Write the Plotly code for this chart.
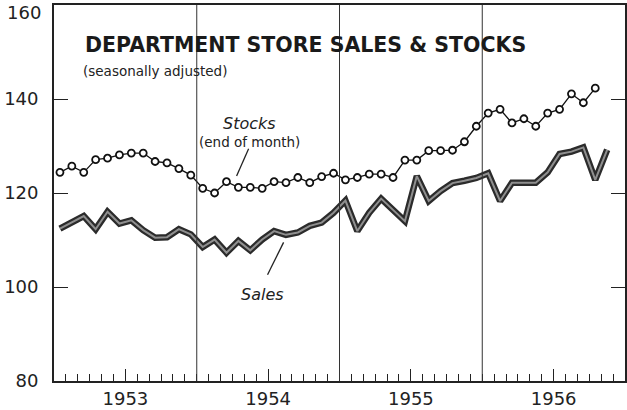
import plotly.graph_objects as go

# month index 0 = Jan 1953
years = ["1953", "1954", "1955", "1956"]
stocks = [124.4, 125.7, 124.4, 127.1, 127.4, 128.1, 128.5, 128.5, 126.7, 126.4, 125.2, 123.8,
          121.0, 120.0, 122.4, 121.2, 121.2, 121.0, 122.4, 122.2, 123.3, 122.2, 123.5, 124.2,
          122.8, 123.3, 124.0, 124.0, 123.3, 127.0, 127.0, 129.0, 129.0, 129.1, 130.9, 134.2,
          137.0, 137.8, 134.9, 135.8, 134.2, 137.0, 137.8, 141.1, 139.2, 142.3]
sales = [112.4, 113.7, 115.1, 112.3, 116.0, 113.5, 114.2, 112.1, 110.5, 110.6, 112.3, 111.2,
         108.5, 110.1, 107.3, 109.8, 107.8, 110.1, 111.9, 111.1, 111.6, 113.0, 113.7, 115.8,
         118.4, 111.9, 115.8, 118.8, 116.4, 114.0, 123.6, 118.3, 120.4, 122.1, 122.6, 123.2,
         124.2, 118.3, 122.2, 122.2, 122.2, 124.4, 128.3, 128.8, 129.7, 122.8, 129.2]
y_ticks = [80, 100, 120, 140, 160]

xs_stocks = [i + 0.5 for i in range(len(stocks))]
xs_sales = [i + 0.5 for i in range(len(sales))]

fig = go.Figure()
fig.add_trace(go.Scatter(x=xs_sales, y=sales, mode="lines",
                         line=dict(color="#2b2b2b", width=6.5), hoverinfo="skip"))
fig.add_trace(go.Scatter(x=xs_sales, y=sales, mode="lines",
                         line=dict(color="#8f8f8f", width=2), hoverinfo="skip"))
fig.add_trace(go.Scatter(x=xs_stocks, y=stocks, mode="lines+markers",
                         line=dict(color="#111", width=1.3),
                         marker=dict(symbol="circle", size=7, color="white",
                                     line=dict(color="#111", width=1.8))))

num_font = dict(family="DejaVu Sans", size=18, color="#222")

# year dividers
shapes = []
for k in range(1, len(years)):
    shapes.append(dict(type="line", xref="x", yref="paper", x0=12 * k, x1=12 * k,
                       y0=0, y1=1, line=dict(color="#333", width=1)))
# leader lines
shapes.append(dict(type="line", xref="x", yref="y", x0=16.36, y0=129.4, x1=15.35, y1=123.6,
                   line=dict(color="#222", width=1.3)))
shapes.append(dict(type="line", xref="x", yref="y", x0=19.3, y0=109.5, x1=17.95, y1=102.6,
                   line=dict(color="#222", width=1.3)))

annotations = [
    dict(text="<b>DEPARTMENT STORE SALES & STOCKS</b>", xref="paper", yref="paper",
         x=(83 - 54) / 571, y=1 - (45 - 5) / 376, xanchor="left", yanchor="middle",
         showarrow=False, font=dict(family="DejaVu Sans", size=20.5, color="#1a1a1a")),
    dict(text="(seasonally adjusted)", xref="paper", yref="paper",
         x=(81 - 54) / 571, y=1 - (71 - 5) / 376, xanchor="left", yanchor="middle",
         showarrow=False, font=dict(family="DejaVu Sans", size=13.5, color="#222")),
    dict(text="<i>Stocks</i>", xref="x", yref="y", x=16.4, y=134.8,
         showarrow=False, font=dict(family="DejaVu Sans", size=16, color="#222")),
    dict(text="(end of month)", xref="x", yref="y", x=16.4, y=130.9,
         showarrow=False, font=dict(family="DejaVu Sans", size=13.5, color="#222")),
    dict(text="<i>Sales</i>", xref="x", yref="y", x=17.5, y=98.4,
         showarrow=False, font=dict(family="DejaVu Sans", size=16, color="#222")),
    dict(text="160", xref="paper", yref="y", x=0, y=160, xanchor="right", yanchor="middle",
         xshift=-11, yshift=-7, showarrow=False, font=num_font),
]

fig.update_layout(
    width=627, height=410,
    margin=dict(l=54, r=2, t=5, b=29, autoexpand=False),
    paper_bgcolor="white", plot_bgcolor="white",
    showlegend=False,
    shapes=shapes, annotations=annotations,
    xaxis=dict(range=[0, 48], tickmode="array", tickvals=[6 + 12 * k for k in range(len(years))],
               ticktext=years, ticks="inside", ticklen=12, tickwidth=1.4, tickcolor="#222",
               minor=dict(tickmode="linear", tick0=0, dtick=1, ticks="inside", ticklen=7,
                          tickwidth=1.3, tickcolor="#222"),
               showline=True, linecolor="#222", linewidth=1.8, mirror=True,
               showgrid=False, zeroline=False, tickfont=num_font, ticklabelstandoff=0,
               automargin=False),
    yaxis=dict(range=[80, 160], tickmode="array", tickvals=y_ticks,
               ticktext=[str(v) if v != 160 else "" for v in y_ticks],
               ticks="inside", ticklen=14, tickwidth=1.4, tickcolor="#222",
               showline=True, linecolor="#222", linewidth=1.8, mirror="ticks",
               showgrid=False, zeroline=False, tickfont=num_font, ticklabelstandoff=10,
               automargin=False),
)

fig.write_html("out.html", config={"displayModeBar": False},
               post_script="document.body.style.margin='0';")
